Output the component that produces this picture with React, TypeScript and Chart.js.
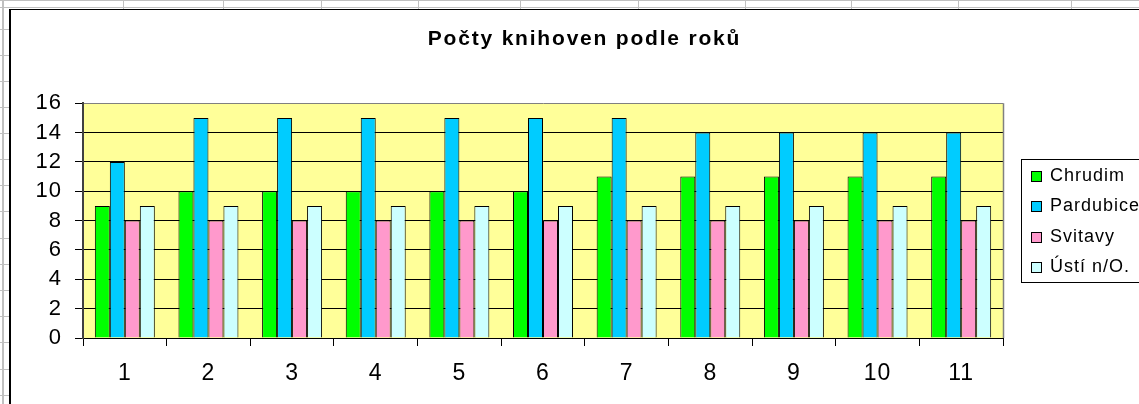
import React, { useEffect, useRef } from 'react';
import { Chart, registerables } from 'chart.js';

Chart.register(...registerables);

const categories = ['1', '2', '3', '4', '5', '6', '7', '8', '9', '10', '11'];
const chrudim = [9, 10, 10, 10, 10, 10, 11, 11, 11, 11, 11];
const pardubice = [12, 15, 15, 15, 15, 15, 15, 14, 14, 14, 14];
const svitavy = [8, 8, 8, 8, 8, 8, 8, 8, 8, 8, 8];
const usti = [9, 9, 9, 9, 9, 9, 9, 9, 9, 9, 9];
const seriesNames = ['Chrudim', 'Pardubice', 'Svitavy', 'Ústí n/O.'];
const seriesColors = ['#00ff00', '#00ccff', '#ff99cc', '#ccffff'];
const titleText = 'Počty knihoven podle roků';
const yMin = 0;
const yMax = 16;
const yStep = 2;

const FONT = "'Liberation Sans', Arial, Helvetica, sans-serif";

const sheetPlugin = {
  id: 'sheet',
  beforeDraw(chart: any) {
    const ctx = chart.ctx as CanvasRenderingContext2D;
    const W = chart.width;
    const H = chart.height;
    ctx.save();
    (ctx as any).letterSpacing = '0px';
    ctx.fillStyle = '#ffffff';
    ctx.fillRect(0, 0, W, H);
    // spreadsheet grid behind the chart object
    ctx.fillStyle = '#c0c0c0';
    ctx.fillRect(0, 0, W, 1);
    ctx.fillRect(0, 7, W, 1);
    const cols = [123, 223, 321, 418, 520, 638, 745, 851, 958, 1071];
    cols.forEach((x) => ctx.fillRect(x, 0, 1, 9));
    ctx.fillRect(2, 0, 2, H);
    const rows = [29, 55, 81, 107, 133, 159, 185, 211, 238, 264, 290, 316, 342, 369, 395];
    rows.forEach((y) => ctx.fillRect(0, y, 9, 1));
    // chart object border
    ctx.fillStyle = '#000000';
    ctx.fillRect(9, 9, W, 1);
    ctx.fillRect(9, 9, 2, H);
    // plot area fill
    const ca = chart.chartArea;
    ctx.fillStyle = '#ffff99';
    ctx.fillRect(ca.left, ca.top, ca.right - ca.left, ca.bottom - ca.top);
    ctx.restore();
    (ctx as any).letterSpacing = '1px';

    const tb = chart.titleBlock;
    if (tb && !tb.__patched) {
      const orig = tb.draw.bind(tb);
      tb.draw = (area: any) => {
        ctx.save();
        (ctx as any).letterSpacing = '1.8px';
        orig(area);
        ctx.restore();
      };
      tb.__patched = true;
    }
  },
  beforeDatasetsDraw(chart: any) {
    const ctx = chart.ctx as CanvasRenderingContext2D;
    const ca = chart.chartArea;
    ctx.save();
    ctx.strokeStyle = '#808080';
    ctx.lineWidth = 1.5;
    ctx.beginPath();
    ctx.moveTo(ca.right + 0.5, ca.top);
    ctx.lineTo(ca.right + 0.5, ca.bottom);
    ctx.stroke();
    ctx.restore();
  },
};

const legendPlugin = {
  id: 'boxLegend',
  afterDraw(chart: any) {
    const ctx = chart.ctx as CanvasRenderingContext2D;
    ctx.save();
    (ctx as any).letterSpacing = '1px';
    ctx.strokeStyle = '#000000';
    ctx.lineWidth = 1;
    ctx.strokeRect(1021.5, 159.5, 200, 123);
    ctx.font = `18px ${FONT}`;
    ctx.textBaseline = 'middle';
    ctx.textAlign = 'left';
    chart.data.datasets.forEach((ds: any, i: number) => {
      const cy = 176 + i * 30.5;
      const y0 = Math.round(cy - 5.5);
      ctx.fillStyle = ds.backgroundColor;
      ctx.fillRect(1031, y0, 11, 11);
      ctx.strokeStyle = '#000000';
      ctx.strokeRect(1031.5, y0 + 0.5, 10, 10);
      ctx.fillStyle = '#000000';
      ctx.fillText(ds.label, 1050, cy);
    });
    ctx.restore();
  },
};

export default function App() {
  const ref = useRef<HTMLCanvasElement | null>(null);

  useEffect(() => {
    document.body.style.margin = '0';
    const canvas = ref.current;
    if (!canvas) return;
    const series = [chrudim, pardubice, svitavy, usti];
    const chart = new Chart(canvas, {
      type: 'bar',
      data: {
        labels: categories,
        datasets: series.map((d, i) => ({
          label: seriesNames[i],
          data: d,
          backgroundColor: seriesColors[i],
          borderColor: '#000000',
          borderWidth: 1,
          categoryPercentage: 0.717,
          barPercentage: 1,
        })),
      },
      options: {
        responsive: false,
        animation: false,
        devicePixelRatio: 1,
        layout: { padding: { left: 30, right: 0, top: 0, bottom: 0 } },
        plugins: {
          legend: { display: false },
          tooltip: { enabled: false },
          title: {
            display: true,
            text: titleText,
            color: '#000000',
            font: { family: FONT, size: 21, weight: 'bold' },
            padding: { top: 27, bottom: 51 },
          },
        },
        scales: {
          x: {
            grid: {
              display: true,
              drawOnChartArea: false,
              drawTicks: true,
              tickLength: 8,
              tickColor: '#000000',
              offset: true,
            },
            border: { display: true, color: '#000000', width: 1 },
            ticks: {
              color: '#000000',
              font: { family: FONT, size: 23 },
              padding: 14,
              maxRotation: 0,
              autoSkip: false,
            },
            afterFit: (s: any) => {
              s.height = 66;
            },
          },
          y: {
            min: yMin,
            max: yMax,
            ticks: {
              stepSize: yStep,
              autoSkip: false,
              color: '#000000',
              font: { family: FONT, size: 22 },
              padding: 13,
            },
            grid: {
              color: (c: any) => (c.tick && c.tick.value === yMax ? '#808080' : '#000000'),
              tickColor: '#000000',
              tickLength: 8,
              drawTicks: true,
            },
            border: { color: '#404040', width: 2 },
            afterFit: (s: any) => {
              s.width = 53;
            },
          },
          y2: {
            position: 'right',
            display: true,
            grid: { display: false, drawTicks: false },
            ticks: { display: false },
            border: { display: false },
            afterFit: (s: any) => {
              s.width = 136;
            },
          },
        },
      } as any,
      plugins: [sheetPlugin, legendPlugin],
    });
    return () => chart.destroy();
  }, []);

  return (
    <div style={{ width: 1139, height: 404, overflow: 'hidden' }}>
      <canvas ref={ref} width={1139} height={404} style={{ display: 'block' }} />
    </div>
  );
}
